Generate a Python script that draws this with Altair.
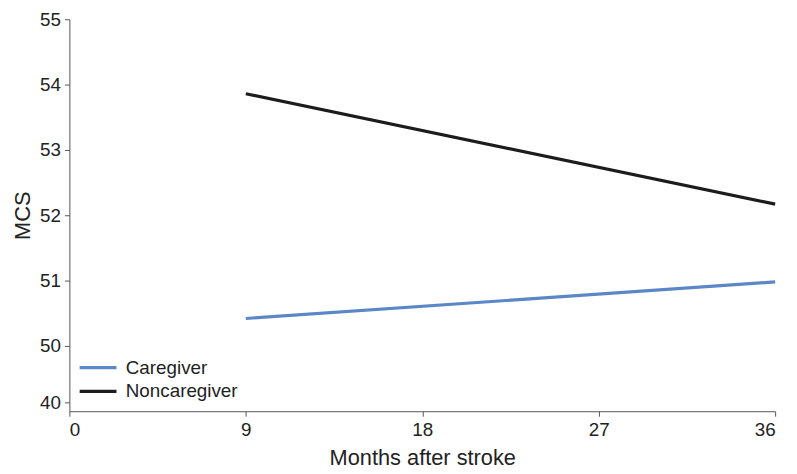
import altair as alt
import pandas as pd

months = [9, 36]
caregiver = [50.42, 50.98]
noncaregiver = [53.86, 52.17]
groups = ["Caregiver", "Noncaregiver"]
x_ticks = [0, 9, 18, 27, 36]
y_tick_labels = [40, 50, 51, 52, 53, 54, 55]

# broken y axis: 40 is drawn just below 50
BREAK_POS = 49.13
def yt(v):
    return v if v >= 50 else BREAK_POS

rows = []
for m, c, n in zip(months, caregiver, noncaregiver):
    rows.append({"month": m, "mcs": c, "group": groups[0]})
    rows.append({"month": m, "mcs": n, "group": groups[1]})
df = pd.DataFrame(rows)

y_tick_pos = [yt(v) for v in y_tick_labels]

chart = alt.Chart(df).mark_line(strokeWidth=3.2).encode(
    x=alt.X("month:Q", title="Months after stroke",
            scale=alt.Scale(domain=[0, 36], nice=False, zero=False),
            axis=alt.Axis(values=x_ticks, format="d")),
    y=alt.Y("mcs:Q", title="MCS",
            scale=alt.Scale(domain=[49.0, 55.0], nice=False, zero=False),
            axis=alt.Axis(values=y_tick_pos,
                          labelExpr="datum.value < 49.5 ? '40' : format(datum.value, 'd')")),
    color=alt.Color("group:N", title=None,
                    scale=alt.Scale(domain=groups, range=["#5b87c6", "#1c1c1c"]),
                    legend=alt.Legend(orient="none", legendX=15, legendY=338,
                                      symbolType="M-1.55,0L1.55,0", symbolSize=576,
                                      symbolStrokeWidth=3.2, labelFontSize=19,
                                      labelFont="Liberation Sans", labelColor="#222",
                                      rowPadding=0, labelOffset=14)),
).properties(
    width=713, height=396,
    autosize=alt.AutoSizeParams(type="none"),
    padding={"left": 62, "top": 9, "right": 14, "bottom": 60},
).configure_view(stroke=None).configure_axis(
    grid=False, domainColor="#555", tickColor="#555", tickSize=5,
    labelFont="Liberation Sans", titleFont="Liberation Sans",
    labelFontSize=19, titleFontSize=22, labelColor="#222", titleColor="#222",
    titleFontWeight="normal", labelPadding=4,
).configure_axisY(titlePadding=5).configure_axisX(titlePadding=9)

chart.save("out.html", embed_options={"renderer": "svg", "actions": False})
